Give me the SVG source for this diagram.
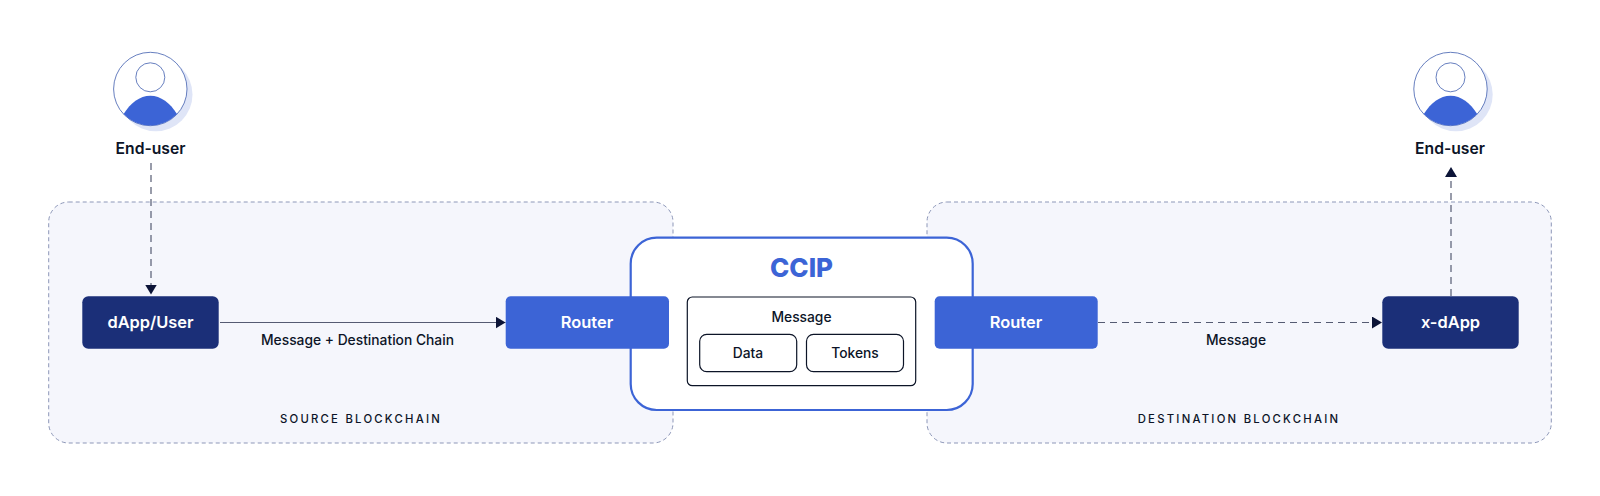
<svg xmlns="http://www.w3.org/2000/svg" width="1600" height="496" viewBox="0 0 1600 496">
<style>
text{font-family:"Inter","Liberation Sans",sans-serif;text-anchor:middle;fill:#0c1427}
.panel{fill:#f5f6fc;stroke:#8d97b8;stroke-width:1;stroke-dasharray:4 3}
.router{fill:#3c64d6}
.dapp{fill:#1b2f78}
.bt{fill:#fff;font-size:16.4px;font-weight:600}
.lbl{font-size:13.8px;font-weight:500}
.cap{font-size:11.3px;font-weight:500;letter-spacing:2.25px}
.box{fill:#fff;stroke:#0c1427;stroke-width:1.2}
.eu{font-size:15.7px;font-weight:600}
.conn{fill:none;stroke:#555b72;stroke-width:1.2}
.dash{stroke-dasharray:7 5}
.ring{fill:#fff;stroke:#5670b8;stroke-width:.9}
</style>
<defs>
<marker id="arrow" markerUnits="userSpaceOnUse" markerWidth="12" markerHeight="12" refX="10" refY="6" orient="auto"><path d="M0 0L10 6L0 12Z" fill="#0c1437"/></marker>
<g id="avatar">
<circle cx="5.5" cy="5.5" r="36.7" fill="#dfe5f7"/>
<circle r="36.7" class="ring"/>
<circle cy="-11.7" r="14.5" class="ring"/>
<path d="M-26.7 25.1C-20 14 -10.5 6.7 0 6.7C10.5 6.7 20 14 26.7 25.1A36.7 36.7 0 0 1 -26.7 25.1Z" fill="#3c64d6"/>
</g>
</defs>
<rect width="1600" height="496" fill="#fff"/>
<g id="source-chain"><rect class="panel" x="48.7" y="202" width="624.3" height="241" rx="20"/><text class="cap" x="361" y="423">SOURCE BLOCKCHAIN</text></g>
<g id="destination-chain"><rect class="panel" x="927" y="202" width="624.3" height="241" rx="20"/><text class="cap" x="1239" y="423">DESTINATION BLOCKCHAIN</text></g>
<g id="connectors">
<path class="conn dash" d="M151 163V294.5" marker-end="url(#arrow)"/>
<path class="conn" d="M220 322.5H505.5" marker-end="url(#arrow)"/>
<path class="conn dash" d="M1098 322.5H1382" marker-end="url(#arrow)"/>
<path class="conn dash" d="M1451 296V167" marker-end="url(#arrow)"/>
</g>
<g id="user-left"><use href="#avatar" x="150.3" y="89"/><text class="eu" x="150.5" y="154">End-user</text></g>
<g id="user-right"><use href="#avatar" x="1450.5" y="89"/><text class="eu" x="1450" y="154">End-user</text></g>
<g id="dapp-user"><rect class="dapp" x="82.3" y="296.3" width="136.4" height="52.4" rx="6"/><text class="bt" x="150.5" y="328">dApp/User</text></g>
<g id="label-msg-dest"><text class="lbl" x="357.5" y="344.5">Message + Destination Chain</text></g>
<g id="ccip"><rect x="630.7" y="237.7" width="342" height="172.3" rx="26" fill="#fff" stroke="#3c64d6" stroke-width="2.2"/><text x="801.5" y="277" font-size="26" font-weight="800" style="fill:#3c64d6">CCIP</text></g>
<g id="router-left"><rect class="router" x="505.7" y="296.3" width="163.3" height="52.4" rx="5"/><text class="bt" x="587" y="327.5">Router</text></g>
<g id="router-right"><rect class="router" x="934.7" y="296.3" width="163" height="52.4" rx="5"/><text class="bt" x="1016" y="327.5">Router</text></g>
<g id="message"><rect class="box" x="687.3" y="297" width="228.4" height="88.7" rx="5"/><text class="lbl" x="801.5" y="321.5">Message</text></g>
<g id="data"><rect class="box" x="699.7" y="334.3" width="97" height="37.4" rx="7"/><text class="lbl" x="748" y="357.5">Data</text></g>
<g id="tokens"><rect class="box" x="806.5" y="334.3" width="97" height="37.4" rx="7"/><text class="lbl" x="855" y="357.5">Tokens</text></g>
<g id="x-dapp"><rect class="dapp" x="1382.3" y="296.3" width="136.4" height="52.4" rx="6"/><text class="bt" x="1450.5" y="328">x-dApp</text></g>
<g id="label-msg"><text class="lbl" x="1236" y="344.5">Message</text></g>
</svg>
